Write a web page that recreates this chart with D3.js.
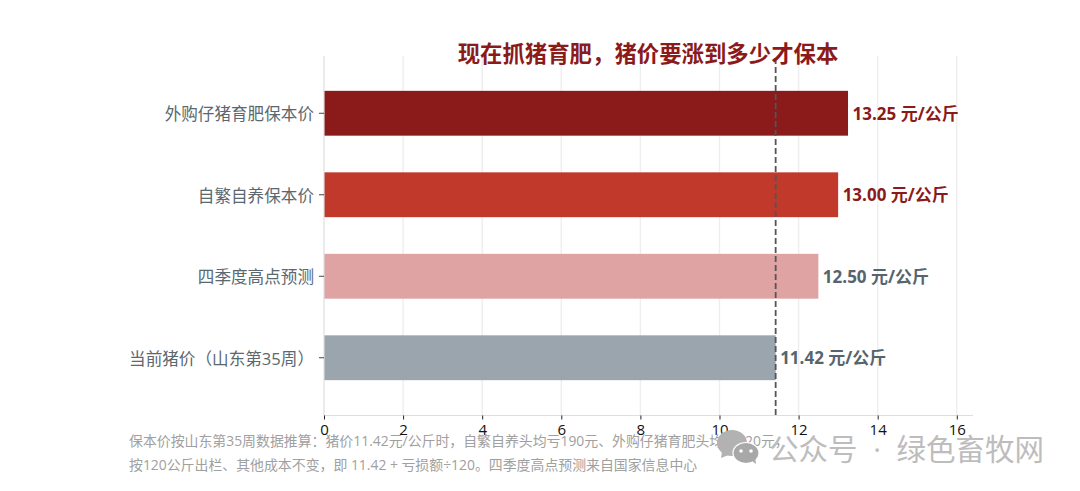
<!DOCTYPE html>
<html>
<head>
<meta charset="utf-8">
<script src="https://cdn.jsdelivr.net/npm/d3@7"></script>
<style>
  html, body { margin: 0; padding: 0; background: #fff; }
  svg { display: block; }
</style>
</head>
<body>
<div id="chart"></div>
<script>
var categories = ["外购仔猪育肥保本价", "自繁自养保本价", "四季度高点预测", "当前猪价（山东第35周）"];
var prices = [13.25, 13.00, 12.50, 11.42];
var barColours = ["#8b1a1a", "#c0392b", "#dfa3a3", "#9aa5ad"];
var labelColours = ["#8b1a1a", "#8b1a1a", "#56646e", "#56646e"];
var xTicks = [0, 2, 4, 6, 8, 10, 12, 14, 16];
var currentPrice = 11.42;
var titleText = "现在抓猪育肥，猪价要涨到多少才保本";
var noteLines = [
  "保本价按山东第35周数据推算：猪价11.42元/公斤时，自繁自养头均亏190元、外购仔猪育肥头均亏220元，",
  "按120公斤出栏、其他成本不变，即 11.42 + 亏损额÷120。四季度高点预测来自国家信息中心"
];
var watermark = "公众号 · 绿色畜牧网";

var fontFamily = "'Open Sans', 'Noto Sans CJK SC', sans-serif";
var width = 1080, height = 491;
var plot = { left: 324, right: 973, top: 56, bottom: 415.5 };

var svg = d3.select("#chart").append("svg")
  .attr("width", width).attr("height", height)
  .attr("font-family", fontFamily);

var x = d3.scaleLinear().domain([0, 16.41]).range([plot.left, plot.right]);
var y = d3.scaleBand()
  .domain(categories)
  .range([72.5, 398.5])
  .paddingInner(0.45).paddingOuter(0.225);

// Grid
svg.append("g").selectAll("line")
  .data(xTicks.slice(1)).join("line")
    .attr("x1", function (d) { return x(d); }).attr("x2", function (d) { return x(d); })
    .attr("y1", plot.top).attr("y2", plot.bottom)
    .attr("stroke", "#eeeeee").attr("stroke-width", 1.4);

// Bars
svg.append("g").selectAll("rect")
  .data(categories).join("rect")
    .attr("x", x(0))
    .attr("y", function (d) { return y(d); })
    .attr("width", function (d, i) { return x(prices[i]) - x(0); })
    .attr("height", y.bandwidth())
    .attr("fill", function (d, i) { return barColours[i]; });

// Left and bottom spines
svg.append("line")
  .attr("x1", x(0)).attr("x2", x(0)).attr("y1", plot.top).attr("y2", plot.bottom)
  .attr("stroke", "#dedede").attr("stroke-width", 1.2);
svg.append("line")
  .attr("x1", plot.left).attr("x2", plot.right).attr("y1", plot.bottom).attr("y2", plot.bottom)
  .attr("stroke", "#dedede").attr("stroke-width", 1.2);

// Current price reference
svg.append("line")
  .attr("x1", x(currentPrice)).attr("x2", x(currentPrice))
  .attr("y1", plot.top + 2).attr("y2", plot.bottom)
  .attr("stroke", "#555").attr("stroke-width", 1.8)
  .attr("stroke-dasharray", "6,3");

// X axis
var xAxis = d3.axisBottom(x).tickValues(xTicks).tickSize(4).tickPadding(5).tickFormat(d3.format("d"));
svg.append("g")
  .attr("transform", "translate(0," + plot.bottom + ")")
  .call(xAxis)
  .call(function (g) { g.select(".domain").remove(); })
  .call(function (g) { g.selectAll(".tick line").attr("stroke", "#222"); })
  .call(function (g) {
    g.selectAll(".tick text")
      .attr("font-family", fontFamily).attr("font-size", 15).attr("fill", "#111");
  });

// Y axis
var yAxis = d3.axisLeft(y).tickSize(5).tickPadding(5);
svg.append("g")
  .attr("transform", "translate(" + plot.left + ",0)")
  .call(yAxis)
  .call(function (g) { g.select(".domain").remove(); })
  .call(function (g) { g.selectAll(".tick line").attr("stroke", "#444"); })
  .call(function (g) {
    g.selectAll(".tick text")
      .attr("font-family", fontFamily).attr("font-size", 16.6).attr("fill", "#5a6870")
      .attr("dy", "0.42em");
  });

// Value labels
svg.append("g").selectAll("text")
  .data(categories).join("text")
    .attr("x", function (d, i) { return x(prices[i]) + 4.5; })
    .attr("y", function (d) { return y(d) + y.bandwidth() / 2; })
    .attr("dy", "0.38em")
    .attr("font-size", 17).attr("font-weight", 700)
    .attr("fill", function (d, i) { return labelColours[i]; })
    .text(function (d, i) { return prices[i].toFixed(2) + " 元/公斤"; });

// Title
svg.append("text")
  .attr("x", 648).attr("y", 62)
  .attr("text-anchor", "middle")
  .attr("font-size", 22.4).attr("font-weight", 700)
  .attr("fill", "#8b1a1a")
  .text(titleText);

// Footnote
svg.append("g").selectAll("text")
  .data(noteLines).join("text")
    .attr("x", 129)
    .attr("y", function (d, i) { return 446 + i * 24; })
    .attr("font-size", 13.9).attr("fill", "#a0a0a0")
    .text(function (d) { return d; });

// Watermark
var wm = svg.append("g").attr("fill", "#b2b2b2");
wm.append("ellipse").attr("cx", 732).attr("cy", 443).attr("rx", 15).attr("ry", 13);
wm.append("path").attr("d", "M722 452 L721 458 L731 454 Z");
wm.append("ellipse").attr("cx", 746).attr("cy", 453).attr("rx", 13).attr("ry", 10.5)
  .attr("fill", "#a8a8a8").attr("stroke", "#fff").attr("stroke-width", 1.2);
wm.append("path").attr("d", "M751 460 L756 464 L755 457 Z").attr("fill", "#a8a8a8");
wm.append("circle").attr("cx", 741).attr("cy", 451).attr("r", 1.8).attr("fill", "#fff");
wm.append("circle").attr("cx", 751).attr("cy", 451).attr("r", 1.8).attr("fill", "#fff");
svg.append("text")
  .attr("x", 769).attr("y", 460)
  .attr("font-size", 29.5).attr("fill", "#bdbdbd")
  .attr("word-spacing", 8)
  .text(watermark);
</script>
</body>
</html>
